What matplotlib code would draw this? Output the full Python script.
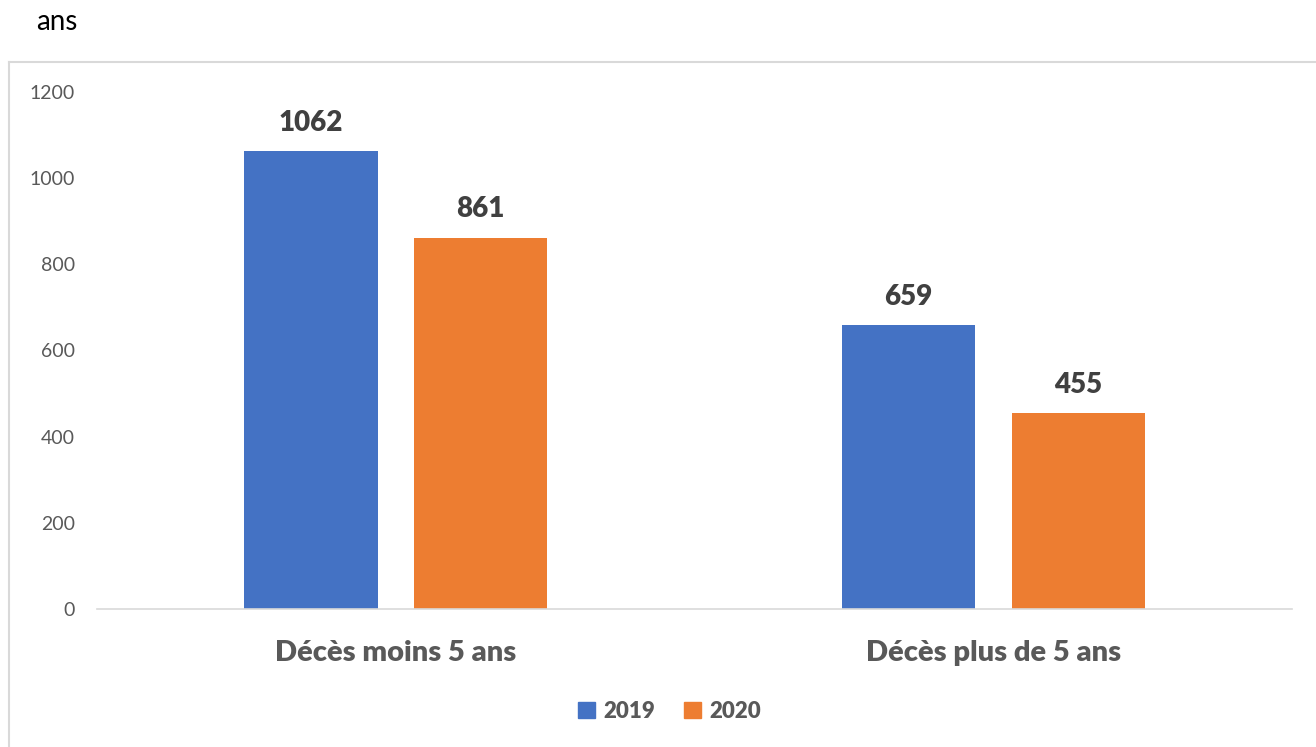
#!/usr/bin/env python3
"""Décès moins / plus de 5 ans, 2019 vs 2020 (grouped bars)."""

import matplotlib

matplotlib.use("Agg")

import matplotlib.pyplot as plt
import numpy as np
from matplotlib.lines import Line2D
from matplotlib.patches import Patch

categories = ["Décès moins 5 ans", "Décès plus de 5 ans"]
years = ["2019", "2020"]
values_2019 = [1062, 659]
values_2020 = [861, 455]
yticks = [0, 200, 400, 600, 800, 1000, 1200]

BLUE = "#4472C4"
ORANGE = "#ED7D31"
GREY_TXT = "#595959"
DARK_TXT = "#404040"
LINE = "#D9D9D9"

plt.rcParams["font.family"] = ["Lato", "DejaVu Sans"]

fig = plt.figure(figsize=(13.16, 7.47), dpi=100)
ax = fig.add_axes([0.0737, 0.1847, 0.9081, 0.6928])

x = np.arange(len(categories))
width = 0.223
offset = 0.142

for vals, color, shift in ((values_2019, BLUE, -offset), (values_2020, ORANGE, offset)):
    bars = ax.bar(x + shift, vals, width, color=color, linewidth=0)
    for bar, v in zip(bars, vals):
        ax.annotate(
            str(v),
            (bar.get_x() + bar.get_width() / 2, v),
            xytext=(0, 11),
            textcoords="offset points",
            ha="center",
            va="bottom",
            fontsize=20,
            fontweight="heavy",
            color=DARK_TXT,
        )

ax.set_xlim(-0.5, 1.5)
ax.set_ylim(0, 1200)
ax.set_yticks(yticks)
ax.set_xticks(x)
ax.set_xticklabels(categories, fontsize=21, fontweight="heavy", color=GREY_TXT)
ax.tick_params(axis="y", length=0, pad=16, labelsize=14, labelcolor=GREY_TXT)
ax.tick_params(axis="x", length=0, pad=22)

for side in ("top", "right", "left"):
    ax.spines[side].set_visible(False)
ax.spines["bottom"].set_color(LINE)
ax.spines["bottom"].set_linewidth(1.2)

handles = [Patch(color=BLUE), Patch(color=ORANGE)]
leg = fig.legend(
    handles,
    years,
    loc="center",
    bbox_to_anchor=(0.509, 0.048),
    ncol=2,
    frameon=False,
    handlelength=0.75,
    handleheight=0.75,
    handletextpad=0.4,
    columnspacing=1.3,
    prop={"family": ["Lato", "DejaVu Sans"], "weight": "heavy", "size": 16},
)
for t in leg.get_texts():
    t.set_color(GREY_TXT)

# chart-area border, cut off at the right and bottom
fig.add_artist(Line2D([9 / 1316, 9 / 1316], [0, 1 - 62 / 747], color=LINE, lw=1.5))
fig.add_artist(Line2D([9 / 1316, 1], [1 - 62 / 747, 1 - 62 / 747], color=LINE, lw=1.5))

fig.text(36 / 1316, 1 - 22 / 747, "ans", fontsize=20, color="black", va="center", ha="left")

fig.savefig("out.png", dpi=100)
